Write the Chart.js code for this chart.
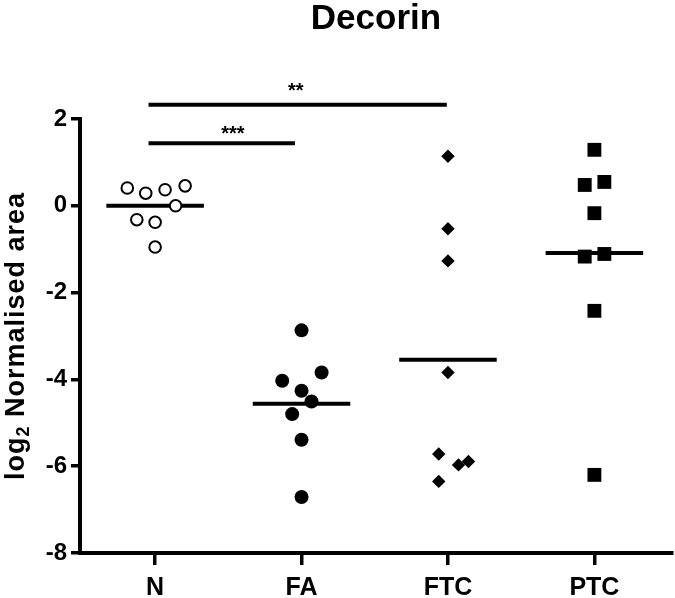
<!DOCTYPE html>
<html lang="en">
<head>
<meta charset="UTF-8">
<title>Decorin</title>
<script src="https://cdn.jsdelivr.net/npm/chart.js"></script>
<style>
  html, body { margin: 0; padding: 0; background: #fff; }
  #wrap { width: 675px; height: 598px; }
</style>
</head>
<body>
<div id="wrap"><canvas id="chart"></canvas></div>
<script>
// ---- data ----
const categories = ['N', 'FA', 'FTC', 'PTC'];
const yTicks = [-8, -6, -4, -2, 0, 2];

const nValues   = [0.41, 0.29, 0.37, 0.46, 0.00, -0.32, -0.38, -0.95];
const faValues  = [-2.87, -3.84, -4.03, -4.26, -4.51, -4.80, -5.39, -6.71];
const ftcValues = [1.14, -0.53, -1.27, -3.84, -5.72, -5.97, -5.89, -6.35];
const ptcValues = [1.29, 0.48, 0.55, -0.17, -1.17, -1.11, -2.42, -6.20];
const medians   = [0.00, -4.56, -3.55, -1.09];

// significance comparisons: group index from / to, stars, bar height (y units)
const sigFrom   = [0, 0];
const sigTo     = [1, 2];
const sigStars  = ['***', '**'];
const sigLevels = [1.44, 2.33];

// ---- layout (horizontal scatter of the dots, bar ends, label spots) ----
const jitter = [
  [-0.19, -0.064, 0.068, 0.205, 0.14, -0.125, 0, 0],
  [0, 0.137, -0.132, 0, 0.068, -0.064, 0, 0],
  [0, 0, 0, 0, -0.063, 0.072, 0.14, -0.063],
  [0, -0.066, 0.068, 0, -0.066, 0.068, 0, 0]
];
const medianHalf = 0.333;
const sigStartInset = [-0.045, -0.045];
const sigEndInset = [-0.045, -0.008];
const starX = [1.531, 1.961];
const starY = [1.73, 2.71];

const FONT = '"Liberation Sans", Arial, sans-serif';
Chart.defaults.font.family = FONT;
Chart.defaults.color = '#000';

const groups = [nValues, faValues, ftcValues, ptcValues];
const markers = [
  { pointStyle: 'circle',  radius: 5.8, backgroundColor: '#fff', borderWidth: 2 },
  { pointStyle: 'circle',  radius: 7,   backgroundColor: '#000', borderWidth: 0 },
  { pointStyle: 'rectRot', radius: 6.7, backgroundColor: '#000', borderWidth: 0 },
  { pointStyle: 'rect',    radius: 9.8, backgroundColor: '#000', borderWidth: 0 }
];

const datasets = [];

groups.forEach((vals, g) => {
  const m = markers[g];
  datasets.push({
    label: categories[g],
    data: vals.map((v, i) => ({ x: g + 1 + jitter[g][i], y: v })),
    pointStyle: m.pointStyle,
    pointRadius: m.radius,
    pointBackgroundColor: m.backgroundColor,
    pointBorderColor: '#000',
    pointBorderWidth: m.borderWidth,
    showLine: false,
    order: 1
  });
});

medians.forEach((v, g) => {
  datasets.push({
    label: 'median ' + categories[g],
    data: [{ x: g + 1 - medianHalf, y: v }, { x: g + 1 + medianHalf, y: v }],
    showLine: true,
    borderColor: '#000',
    borderWidth: 4,
    pointRadius: 0,
    order: 2
  });
});

sigLevels.forEach((lvl, k) => {
  datasets.push({
    label: 'sig ' + sigStars[k],
    data: [
      { x: sigFrom[k] + 1 + sigStartInset[k], y: lvl },
      { x: sigTo[k] + 1 + sigEndInset[k], y: lvl }
    ],
    showLine: true,
    borderColor: '#000',
    borderWidth: 4,
    pointRadius: 0,
    clip: false,
    order: 2
  });
});

const extras = {
  id: 'extras',
  afterDraw(chart) {
    const { ctx, scales: { x, y } } = chart;
    const ca = chart.chartArea;
    ctx.save();
    ctx.fillStyle = '#000';

    // stars above the comparison bars
    ctx.font = 'bold 20px ' + FONT;
    ctx.textAlign = 'center';
    ctx.textBaseline = 'alphabetic';
    sigStars.forEach((s, k) => {
      ctx.fillText(s, x.getPixelForValue(starX[k]), y.getPixelForValue(starY[k]) + 20 * 0.45);
    });

    // y axis title with subscript 2
    const big = 'bold 27px ' + FONT;
    const small = 'bold 18px ' + FONT;
    const midY = (ca.top + ca.bottom) / 2;
    ctx.translate(24, midY);
    ctx.rotate(-Math.PI / 2);
    ctx.letterSpacing = '1px';
    ctx.textAlign = 'left';
    ctx.font = big;
    const w1 = ctx.measureText('log').width;
    const w3 = ctx.measureText(' Normalised area').width;
    ctx.font = small;
    const w2 = ctx.measureText('2').width;
    let px = -(w1 + w2 + w3) / 2;
    ctx.font = big;
    ctx.fillText('log', px, 0);
    px += w1;
    ctx.font = small;
    ctx.fillText('2', px, 5);
    px += w2;
    ctx.font = big;
    ctx.fillText(' Normalised area', px, 0);
    ctx.restore();
  }
};

new Chart(document.getElementById('chart'), {
  type: 'scatter',
  data: { datasets },
  options: {
    responsive: true,
    maintainAspectRatio: false,
    animation: false,
    events: [],
    layout: { autoPadding: false, padding: { left: 0, right: 3, top: 0, bottom: 0 } },
    plugins: {
      legend: { display: false },
      tooltip: { enabled: false },
      title: {
        display: true,
        text: 'Decorin',
        fullSize: false,
        color: '#000',
        font: { size: 35, weight: 'bold', lineHeight: 1 },
        padding: { top: 2, bottom: 82 }
      }
    },
    scales: {
      x: {
        type: 'linear',
        min: 0.487,
        max: 4.53,
        afterBuildTicks: (scale) => { scale.ticks = categories.map((_, i) => ({ value: i + 1 })); },
        afterFit: (scale) => {
          scale.height = 45;
          scale.paddingLeft = 0;
          scale.paddingRight = 0;
        },
        ticks: {
          callback: (v) => categories[v - 1] || '',
          font: { size: 25, weight: 'bold' },
          color: '#000',
          padding: 8,
          maxRotation: 0
        },
        grid: { display: true, drawOnChartArea: false, drawTicks: true, tickLength: 12, lineWidth: 3.5, color: '#000' },
        border: { display: true, width: 4, color: '#000' }
      },
      y: {
        min: -8,
        max: 2,
        afterBuildTicks: (scale) => { scale.ticks = yTicks.map(v => ({ value: v })); },
        afterFit: (scale) => { scale.width = 80; },
        ticks: {
          font: { size: 24, weight: 'bold' },
          color: '#000',
          padding: 4
        },
        grid: { display: true, drawOnChartArea: false, drawTicks: true, tickLength: 9, lineWidth: 3.5, color: '#000' },
        border: { display: true, width: 4, color: '#000' }
      }
    }
  },
  plugins: [extras]
});
</script>
</body>
</html>
